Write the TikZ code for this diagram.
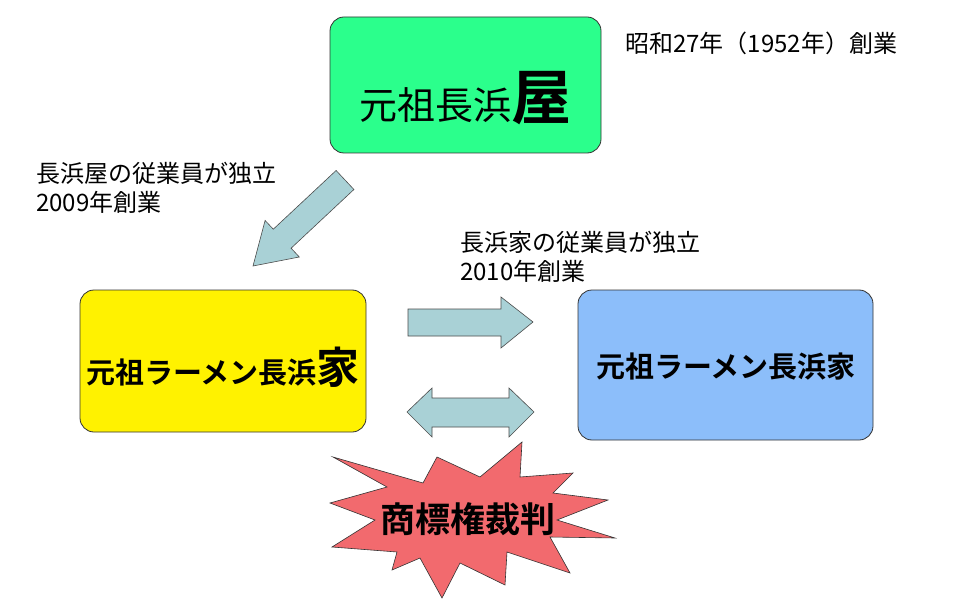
\documentclass[tikz,border=0pt]{standalone}
\usepackage{fontspec}
\setmainfont{Noto Sans CJK JP}
\newfontfamily\jpb{Noto Sans CJK JP Bold}
\begin{document}
\begin{tikzpicture}[x=1pt,y=-1pt,
  box/.style={draw=black!80,line width=0.8pt,rounded corners=14pt},
  arr/.style={draw=black!70,line width=0.6pt,fill=arrc},
  lbl/.style={font=\fontsize{24}{29}\selectfont,align=left,anchor=north west,inner sep=0pt}]
\definecolor{arrc}{HTML}{A9D1D6}
\definecolor{grn}{HTML}{2BFF8C}
\definecolor{blu}{HTML}{8CBEFA}
\definecolor{burst}{HTML}{F26A6E}
\fill[white] (0,0) rectangle (960,612);
\useasboundingbox (0,0) rectangle (960,612);
\draw[box,fill=grn] (330,17) rectangle (601,153);
\node (top) at (465,98) {\fontsize{38}{42}\selectfont 元祖長浜{\jpb\fontsize{60}{64}\selectfont 屋}};
\draw[box,fill=yellow] (80,290) rectangle (366,432);
\node (ie1) at (223,367) {\jpb\fontsize{29}{34}\selectfont 元祖ラーメン長浜{\fontsize{43}{46}\selectfont 家}};
\draw[box,fill=blu] (578,290) rectangle (873,440);
\node (ie2) at (726,367) {\jpb\fontsize{29}{34}\selectfont 元祖ラーメン長浜家};
\node[lbl] (t1) at (625,32) {昭和27年（1952年）創業};
\node[lbl] (t2) at (36,162) {長浜屋の従業員が独立\\2009年創業};
\node[lbl] (t3) at (460,231) {長浜家の従業員が独立\\2010年創業};
\draw[arr] (353.9,189.5) -- (291.1,248.2) -- (299.3,257.0) -- (253,266) -- (265.1,220.5) -- (273.3,229.2) -- (336.1,170.5) -- cycle;
\draw[arr] (408,309) -- (501,309) -- (501,297) -- (533,322) -- (501,348) -- (501,336) -- (408,336) -- cycle;
\draw[arr] (407,412) -- (432,388) -- (432,398) -- (509,398) -- (509,388) -- (534,412) -- (509,437) -- (509,427) -- (432,427) -- (432,437) -- cycle;
\draw[draw=black!80,line width=0.6pt,fill=burst] (333,457) -- (387,487) -- (330,503) -- (375,520) -- (332,547) -- (397,552) -- (392,570) -- (420,558) -- (442,598) -- (460,563) -- (505,585) -- (507,552) -- (570,573) -- (550,537) -- (615,538) -- (557,520) -- (608,500) -- (553,493) -- (573,473) -- (520,477) -- (522,442) -- (480,477) -- (437,457) -- (423,483) -- cycle;
\node (court) at (468,519) {\jpb\fontsize{35}{38}\selectfont 商標権裁判};
\end{tikzpicture}
\end{document}
